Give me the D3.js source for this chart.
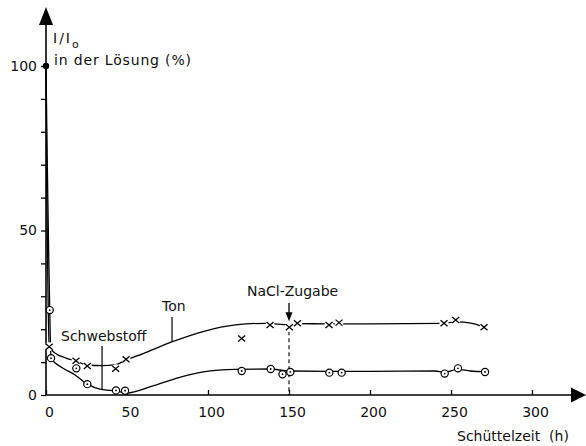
<!DOCTYPE html>
<html>
<head>
<meta charset="utf-8">
<script src="https://cdn.jsdelivr.net/npm/d3@7"></script>
<style>
    body { margin: 0; background: #fff; }
    text { font-family: "DejaVu Sans", sans-serif; fill: #111; }
</style>
</head>
<body>
<div id="diagramm"></div>
<script>
// Messpunkte Ton (Kreuze)
var tonZeit = [2, 18.5, 25.5, 43, 49.4, 120.8, 138.3, 150.2, 155.2, 174.7, 180.9, 245.7, 252.9, 270.4];
var tonWert = [14.7, 10.4, 8.8, 8.0, 10.9, 17.2, 21.3, 20.6, 21.8, 21.3, 22.0, 21.8, 22.8, 20.6];

// Messpunkte Schwebstoff (Kreise)
var schwebZeit = [2.3, 3.1, 18.7, 25.5, 43.2, 48.8, 120.8, 138.7, 146, 150.8, 174.9, 182.5, 246.1, 254.3, 271];
var schwebWert = [25.8, 11.2, 8.1, 3.3, 1.4, 1.3, 7.3, 7.9, 6.3, 7.0, 6.8, 6.8, 6.5, 8.1, 7.0];

// Ausgleichskurven
var tonKurveZeit = [0, 0.5, 1.2, 2, 6, 12, 18.5, 25, 35, 43, 49, 60, 78, 97, 117, 136, 150, 155, 175, 200, 245, 253, 263, 270.4];
var tonKurveWert = [100, 62, 32, 14.7, 12.6, 11.3, 10.3, 9.2, 8.9, 9.2, 10.5, 12.6, 16.2, 19.3, 21.3, 21.8, 21.3, 21.7, 21.6, 21.6, 21.8, 22.2, 21.8, 20.6];
var schwebKurveZeit = [0, 0.8, 1.6, 2.3, 3.1, 10, 18, 25.5, 34, 43, 50, 65, 82, 97, 117, 138, 150, 175, 200, 240, 246, 254, 262, 271];
var schwebKurveWert = [100, 70, 45, 25.8, 11.2, 8.3, 6.1, 3.3, 1.7, 1.2, 0.6, 2.6, 5.3, 7.0, 7.8, 7.9, 7.3, 7.2, 7.2, 7.3, 6.9, 7.8, 7.3, 7.1];

// Achsenbeschriftung
var yTicks = [0, 10, 20, 30, 40, 50, 60, 70, 80, 90, 100];
var yLabels = [0, 50, 100];
var xTicks = [0, 50, 100, 150, 200, 250, 300];
var naclZeit = 150;

var w = 586;
var h = 446;

var svg = d3.select("#diagramm")
    .append("svg")
    .attr("width", w)
    .attr("height", h);

// Skalen
var xScale = d3.scaleLinear().domain([0, 300]).range([46, 532]);
var yScale = d3.scaleLinear().domain([0, 100]).range([395, 66]);

// y-Achse mit Pfeil
svg.append("line")
    .attr("x1", xScale(0)).attr("y1", yScale(0))
    .attr("x2", xScale(0)).attr("y2", 22)
    .style("stroke", "#000").style("stroke-width", 1.6);
svg.append("path")
    .attr("d", "M" + xScale(0) + ",7 L" + (xScale(0) - 7) + ",25 L" + (xScale(0) + 7) + ",25 Z")
    .style("fill", "#000");

// x-Achse mit Pfeil
svg.append("line")
    .attr("x1", xScale(0)).attr("y1", yScale(0))
    .attr("x2", 574).attr("y2", yScale(0))
    .style("stroke", "#000").style("stroke-width", 1.6);
svg.append("path")
    .attr("d", "M586," + yScale(0) + " L571," + (yScale(0) - 7.5) + " L571," + (yScale(0) + 7.5) + " Z")
    .style("fill", "#000");

var yAxis = svg.append("g")
    .attr("transform", "translate(" + xScale(0) + ",0)")
    .call(d3.axisLeft(yScale).tickValues(yTicks).tickSize(5).tickPadding(4)
        .tickFormat(function (d) { return yLabels.indexOf(d) >= 0 ? d : ""; }));

var xAxis = svg.append("g")
    .attr("transform", "translate(0," + yScale(0) + ")")
    .call(d3.axisBottom(xScale).tickValues(xTicks).tickSizeInner(-5).tickSizeOuter(0).tickPadding(12));

[yAxis, xAxis].forEach(function (a) {
    a.select(".domain").remove();
    a.selectAll("line").style("stroke", "#000").style("stroke-width", 1.3);
    a.selectAll("text").style("font-size", "14px").style("font-family", "DejaVu Sans").style("fill", "#111");
});
xAxis.selectAll("text").attr("dx", 3);

// Kurven
var line = d3.line()
    .x(function (d) { return xScale(d[0]); })
    .y(function (d) { return yScale(d[1]); })
    .curve(d3.curveMonotoneX);

var tonKurve = tonKurveZeit.map(function (t, i) { return [t, tonKurveWert[i]]; });
var schwebKurve = schwebKurveZeit.map(function (t, i) { return [t, schwebKurveWert[i]]; });

[tonKurve, schwebKurve].forEach(function (k) {
    svg.append("path")
        .datum(k)
        .attr("d", line)
        .style("fill", "none")
        .style("stroke", "#000")
        .style("stroke-width", 1.3);
});

// NaCl-Zugabe: gestrichelte Linie und Pfeil
svg.append("line")
    .attr("x1", xScale(naclZeit)).attr("y1", yScale(21.5))
    .attr("x2", xScale(naclZeit)).attr("y2", yScale(0))
    .style("stroke", "#000").style("stroke-width", 1.1)
    .style("stroke-dasharray", "4,3");
svg.append("line")
    .attr("x1", xScale(naclZeit)).attr("y1", yScale(28))
    .attr("x2", xScale(naclZeit)).attr("y2", yScale(24))
    .style("stroke", "#000").style("stroke-width", 1.3);
svg.append("path")
    .attr("d", "M" + xScale(naclZeit) + "," + yScale(22.4) + " l-3.5,-9 l7,0 Z")
    .style("fill", "#000");

// Messpunkte Ton
var tonDaten = tonZeit.map(function (t, i) { return [t, tonWert[i]]; });
var kreuz = svg.append("g").selectAll("g")
    .data(tonDaten)
    .enter()
    .append("g")
    .attr("transform", function (d) { return "translate(" + xScale(d[0]) + "," + yScale(d[1]) + ")"; });
kreuz.append("circle").attr("r", 4.5).style("fill", "#fff");
kreuz.append("path")
    .attr("d", "M-3.5,-3 L3.5,3 M-3.5,3 L3.5,-3")
    .style("stroke", "#000").style("stroke-width", 1.3);

// Messpunkte Schwebstoff
var schwebDaten = schwebZeit.map(function (t, i) { return [t, schwebWert[i]]; });
var kreis = svg.append("g").selectAll("g")
    .data(schwebDaten)
    .enter()
    .append("g")
    .attr("transform", function (d) { return "translate(" + xScale(d[0]) + "," + yScale(d[1]) + ")"; });
kreis.append("circle").attr("r", 3.6)
    .style("fill", "#fff").style("stroke", "#000").style("stroke-width", 1.2);
kreis.append("circle").attr("r", 0.9).style("fill", "#000");

// Startpunkt 100 %
svg.append("circle")
    .attr("cx", xScale(0)).attr("cy", yScale(100))
    .attr("r", 3.2).style("fill", "#000");

// Hinweislinien
svg.append("line")
    .attr("x1", xScale(77.8)).attr("y1", yScale(23.7))
    .attr("x2", xScale(77.8)).attr("y2", yScale(16.3))
    .style("stroke", "#000").style("stroke-width", 1.2);
svg.append("line")
    .attr("x1", xScale(34.6)).attr("y1", yScale(14.9))
    .attr("x2", xScale(34.6)).attr("y2", yScale(1.6))
    .style("stroke", "#000").style("stroke-width", 1.2);

// Texte
svg.append("text").attr("x", 162).attr("y", 311).style("font-size", "14px").text("Ton");
svg.append("text").attr("x", 61).attr("y", 341).style("font-size", "14px").text("Schwebstoff");
svg.append("text").attr("x", 247).attr("y", 296).style("font-size", "14px").text("NaCl-Zugabe");
svg.append("text").attr("x", 457).attr("y", 441).style("font-size", "14px")
    .style("white-space", "pre").text("Schüttelzeit  (h)");

var yTitel = svg.append("text").attr("x", 53).attr("y", 43).style("font-size", "14px");
yTitel.append("tspan").style("letter-spacing", "2px").text("I/I");
yTitel.append("tspan").attr("dy", 5).style("font-size", "11px").text("o");
svg.append("text").attr("x", 54).attr("y", 65).style("font-size", "14px")
    .attr("textLength", 137).attr("lengthAdjust", "spacing")
    .text("in der Lösung (%)");
</script>
</body>
</html>
